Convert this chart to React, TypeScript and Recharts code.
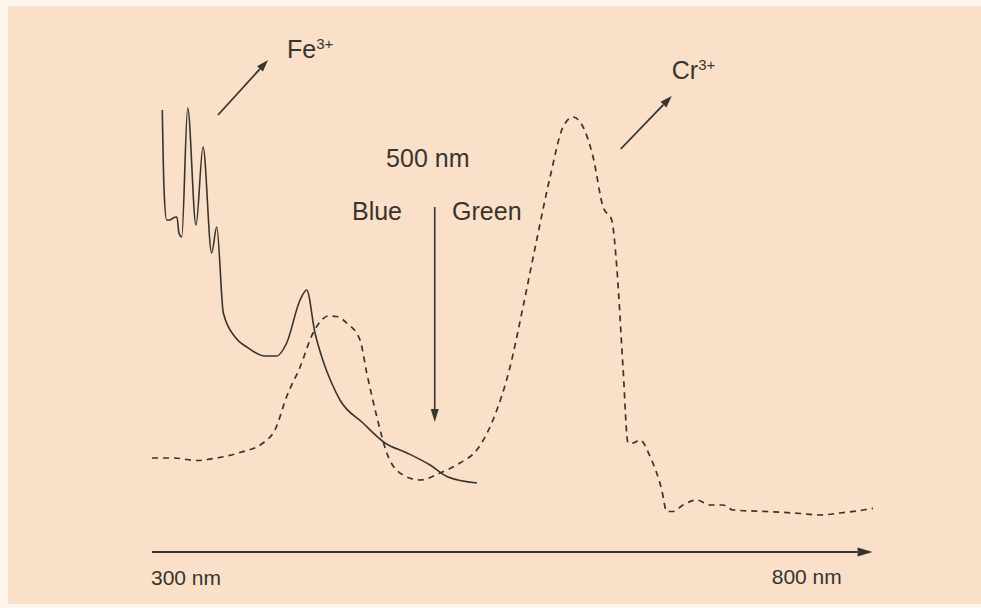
import React from "react";
import { LineChart, Line, XAxis, YAxis, ReferenceLine, ReferenceDot } from "recharts";

// absorption spectra, wavelength in nm vs relative absorbance (arbitrary units)
const feSpectrum = [
  { nm: 307.3, a: 88.4 },
  { nm: 308.6, a: 72 },
  { nm: 310.4, a: 66.4 },
  { nm: 312.8, a: 66.4 },
  { nm: 314.9, a: 66.8 },
  { nm: 317.7, a: 67 },
  { nm: 319.1, a: 63.8 },
  { nm: 321.1, a: 63 },
  { nm: 325.3, a: 88.8 },
  { nm: 331.2, a: 65.4 },
  { nm: 336.2, a: 81 },
  { nm: 342.3, a: 59.8 },
  { nm: 345.9, a: 65 },
  { nm: 350.6, a: 47.8 },
  { nm: 358.9, a: 43 },
  { nm: 367.2, a: 41 },
  { nm: 380.1, a: 39.2 },
  { nm: 388.4, a: 39.2 },
  { nm: 395.5, a: 41.8 },
  { nm: 405, a: 50.4 },
  { nm: 409.7, a: 52.4 },
  { nm: 415.6, a: 43.8 },
  { nm: 421.1, a: 38.4 },
  { nm: 427.4, a: 33.8 },
  { nm: 433.3, a: 30.4 },
  { nm: 449.6, a: 25.8 },
  { nm: 465.2, a: 21.8 },
  { nm: 480.9, a: 19.8 },
  { nm: 497.2, a: 17.4 },
  { nm: 509.9, a: 15 },
  { nm: 530.5, a: 13.8 }
];

const crSpectrum = [
  { nm: 300, a: 18.8 },
  { nm: 314.9, a: 18.8 },
  { nm: 331.7, a: 18.3 },
  { nm: 345.9, a: 18.8 },
  { nm: 362.4, a: 19.9 },
  { nm: 378.7, a: 21.8 },
  { nm: 387.2, a: 24.4 },
  { nm: 395.5, a: 31.1 },
  { nm: 405, a: 37 },
  { nm: 414.2, a: 43.8 },
  { nm: 420.4, a: 46.4 },
  { nm: 424.8, a: 47.2 },
  { nm: 431, a: 47.1 },
  { nm: 438.1, a: 45.8 },
  { nm: 447.5, a: 42.4 },
  { nm: 452.3, a: 35.8 },
  { nm: 459.4, a: 27.1 },
  { nm: 466.5, a: 19.8 },
  { nm: 478, a: 15.4 },
  { nm: 490.1, a: 14.4 },
  { nm: 504.3, a: 15.8 },
  { nm: 518.4, a: 17.8 },
  { nm: 530.3, a: 20.4 },
  { nm: 541.8, a: 26.4 },
  { nm: 553.9, a: 37 },
  { nm: 563.1, a: 49 },
  { nm: 572.8, a: 62.4 },
  { nm: 582.3, a: 75 },
  { nm: 591.5, a: 85 },
  { nm: 598.6, a: 87 },
  { nm: 605.7, a: 85 },
  { nm: 612.8, a: 79 },
  { nm: 619.9, a: 69 },
  { nm: 626, a: 66.4 },
  { nm: 629.6, a: 57 },
  { nm: 634, a: 37 },
  { nm: 637.6, a: 21.8 },
  { nm: 641.1, a: 21.8 },
  { nm: 646.1, a: 22.4 },
  { nm: 653.2, a: 19.1 },
  { nm: 661.5, a: 12.4 },
  { nm: 665, a: 8.1 },
  { nm: 669.5, a: 8.1 },
  { nm: 676.6, a: 9.4 },
  { nm: 686.3, a: 10.4 },
  { nm: 695.7, a: 9.4 },
  { nm: 704.9, a: 9.4 },
  { nm: 712, a: 8.4 },
  { nm: 736, a: 8.1 },
  { nm: 759.6, a: 7.7 },
  { nm: 773.8, a: 7.4 },
  { nm: 788, a: 7.8 },
  { nm: 804.3, a: 8.4 },
  { nm: 812.8, a: 8.8 }
];

const axisLabels = ["300 nm", "800 nm"];

const INK = "#38342f";
const FONT = "'Liberation Sans', Arial, sans-serif";

// line with a filled triangle at the end
const arrow = (len: number, half: number, width: number) => (props: any) => {
  const { x1, y1, x2, y2 } = props;
  const ang = Math.atan2(y2 - y1, x2 - x1);
  const bx = x2 - len * Math.cos(ang);
  const by = y2 - len * Math.sin(ang);
  const px = -Math.sin(ang) * half;
  const py = Math.cos(ang) * half;
  return (
    <g>
      <line x1={x1} y1={y1} x2={bx} y2={by} stroke={INK} strokeWidth={width} />
      <polygon points={`${x2},${y2} ${bx + px},${by + py} ${bx - px},${by - py}`} fill={INK} />
    </g>
  );
};

const label = (main: string, sup?: string, size = 25) => (props: any) => (
  <text x={props.cx} y={props.cy} fill={INK} fontSize={size} fontFamily={FONT}>
    {main}
    {sup && (
      <tspan fontSize={15} dy={-9}>
        {sup}
      </tspan>
    )}
  </text>
);

const App: React.FC = () => {
  return (
    <div style={{ position: "absolute", left: 0, top: 0, width: 981, height: 608, background: "#fdf4ec" }}>
      <div style={{ position: "absolute", left: 8, top: 6, width: 973, height: 598, background: "#fae0c8" }} />
      <div style={{ position: "absolute", left: 0, top: 0 }}>
        <LineChart width={981} height={608} margin={{ top: 52, right: 108, bottom: 56, left: 152 }}>
          <XAxis type="number" dataKey="nm" domain={[300, 811.3]} hide allowDataOverflow />
          <YAxis type="number" domain={[0, 100]} hide allowDataOverflow />
          <Line
            data={crSpectrum}
            dataKey="a"
            type="monotone"
            stroke={INK}
            strokeWidth={1.7}
            strokeDasharray="6 5"
            dot={false}
            isAnimationActive={false}
          />
          <Line
            data={feSpectrum}
            dataKey="a"
            type="monotone"
            stroke={INK}
            strokeWidth={1.6}
            dot={false}
            isAnimationActive={false}
          />
          <ReferenceLine segment={[{ x: 300, y: 0 }, { x: 811, y: 0 }]} ifOverflow="visible" shape={arrow(15, 4.5, 2)} />
          <ReferenceLine segment={[{ x: 500.5, y: 69 }, { x: 500.5, y: 26 }]} ifOverflow="visible" shape={arrow(13, 4, 1.6)} />
          <ReferenceLine segment={[{ x: 346.8, y: 87.4 }, { x: 382.3, y: 98.4 }]} ifOverflow="visible" shape={arrow(12, 4, 1.8)} />
          <ReferenceLine segment={[{ x: 632.4, y: 80.6 }, { x: 668.6, y: 91.2 }]} ifOverflow="visible" shape={arrow(12, 4, 1.8)} />
          <ReferenceDot x={395.7} y={98.8} ifOverflow="visible" shape={label("Fe", "3+")} />
          <ReferenceDot x={668.6} y={94.6} ifOverflow="visible" shape={label("Cr", "3+")} />
          <ReferenceDot x={466} y={77} ifOverflow="visible" shape={label("500 nm")} />
          <ReferenceDot x={441.8} y={66.4} ifOverflow="visible" shape={label("Blue")} />
          <ReferenceDot x={512.8} y={66.4} ifOverflow="visible" shape={label("Green")} />
          <ReferenceDot x={299.3} y={-6.6} ifOverflow="visible" shape={label(axisLabels[0], undefined, 21)} />
          <ReferenceDot x={739.5} y={-6.4} ifOverflow="visible" shape={label(axisLabels[1], undefined, 21)} />
        </LineChart>
      </div>
    </div>
  );
};

export default App;
